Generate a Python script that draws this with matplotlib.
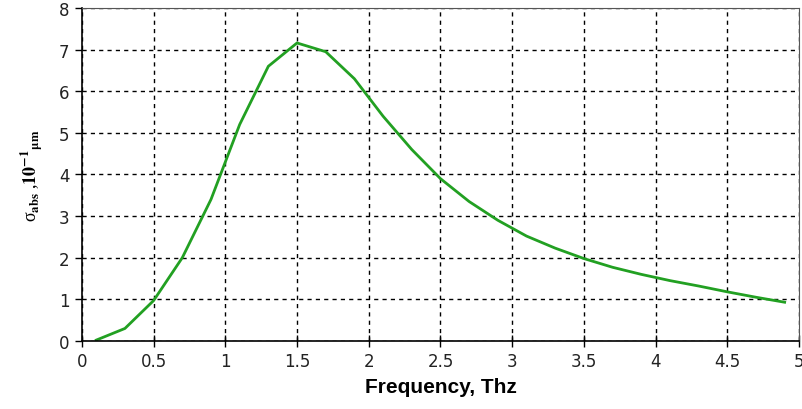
import matplotlib
matplotlib.use("Agg")
import matplotlib.pyplot as plt
import numpy as np

# frequency (THz) and absorption cross-section (x 10^-1 um)
freq = [0.1, 0.3, 0.5, 0.7, 0.9, 1.1, 1.3, 1.5, 1.7, 1.9, 2.1, 2.3, 2.5,
        2.7, 2.9, 3.1, 3.3, 3.5, 3.7, 3.9, 4.1, 4.3, 4.5, 4.7, 4.9]
sigma = [0.02, 0.30, 0.97, 2.0, 3.4, 5.2, 6.6, 7.16, 6.95, 6.3, 5.4, 4.6, 3.9,
         3.35, 2.9, 2.52, 2.23, 1.98, 1.77, 1.6, 1.45, 1.32, 1.18, 1.05, 0.93]
xticks = [0, 0.5, 1, 1.5, 2, 2.5, 3, 3.5, 4, 4.5, 5]
xtick_labels = ["0", "0.5", "1", "1.5", "2", "2.5", "3", "3.5", "4", "4.5", "5"]
yticks = [0, 1, 2, 3, 4, 5, 6, 7, 8]

plt.rcParams["mathtext.fontset"] = "stix"
plt.rcParams["mathtext.default"] = "regular"

fig = plt.figure(figsize=(8.03, 4.10), dpi=100)
ax = fig.add_axes([0.102, 0.166, 0.893, 0.812])

ax.plot(np.array(freq), np.array(sigma), color="#22a022", linewidth=2)

ax.set_xlim(0, 5)
ax.set_ylim(0, 8)
ax.set_xticks(xticks)
ax.set_xticklabels(xtick_labels)
ax.set_yticks(yticks)
ax.grid(True, color="black", linestyle=(0, (3, 3)), linewidth=1)
ax.tick_params(axis="x", direction="inout", length=8, width=1, labelsize=12, pad=4)
ax.tick_params(axis="y", direction="out", length=5, width=1, labelsize=12, pad=4)
for lab in ax.get_xticklabels() + ax.get_yticklabels():
    lab.set_fontfamily("DejaVu Sans")
    lab.set_color("#222222")

ax.spines["left"].set_linewidth(1.2)
ax.spines["bottom"].set_linewidth(1.2)
ax.spines["top"].set_color("#555555")
ax.spines["right"].set_color("#555555")

ax.set_xlabel("Frequency, Thz", fontsize=15, fontweight="bold",
              family="Liberation Sans", labelpad=5)
ax.set_ylabel(r"$\sigma_{\mathbf{abs}}$ ,$\mathbf{10^{-1}}$$_{\mathbf{\mu m}}$",
              fontsize=13, labelpad=10, family="Liberation Serif")

fig.savefig("out.png", dpi=100)
